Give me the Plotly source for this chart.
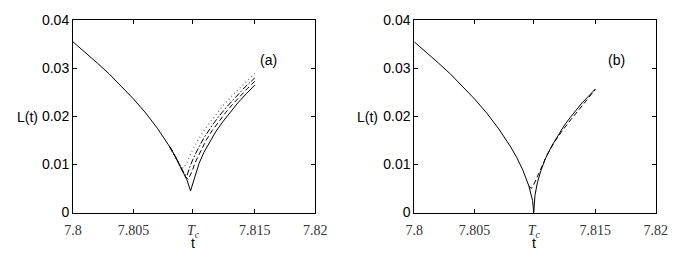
import plotly.graph_objects as go

TC = 7.8099

# ---- panel (a) ----
a_solid_t = [7.800, 7.801, 7.802, 7.803, 7.804, 7.805, 7.806, 7.807, 7.808, 7.8085, 7.809, 7.8094, 7.8097,
             7.8099, 7.8101, 7.8104, 7.8108, 7.8113, 7.8118, 7.8124, 7.8130, 7.8136, 7.8143, 7.8150]
a_solid_L = [0.0355, 0.0334, 0.0311, 0.0288, 0.0263, 0.0236, 0.0207, 0.0174, 0.0136, 0.0114, 0.0088, 0.0068, 0.0045,
             0.0062, 0.0080, 0.0102, 0.0125, 0.0148, 0.0169, 0.0190, 0.0210, 0.0228, 0.0247, 0.0265]

a_dash_t = [7.808, 7.8085, 7.809, 7.8093, 7.8095, 7.8098, 7.8101, 7.8105, 7.8110, 7.8115, 7.8120, 7.8126,
            7.8132, 7.8138, 7.8144, 7.8150]
a_dash_L = [0.0136, 0.0114, 0.0088, 0.0074, 0.0069, 0.0084, 0.0105, 0.0127, 0.0151, 0.0171, 0.0189, 0.0208,
            0.0226, 0.0243, 0.0258, 0.0273]

a_dashdot_t = [7.808, 7.8085, 7.809, 7.8092, 7.8094, 7.8096, 7.8099, 7.8103, 7.8108, 7.8114, 7.8120, 7.8127,
               7.8134, 7.8142, 7.8150]
a_dashdot_L = [0.0136, 0.0114, 0.0090, 0.0080, 0.0076, 0.0092, 0.0111, 0.0132, 0.0155, 0.0178, 0.0199, 0.0220,
               0.0240, 0.0261, 0.0280]

a_dot_t = [7.8080, 7.8085, 7.8088, 7.8091, 7.8094, 7.8098, 7.8103, 7.8109, 7.8116, 7.8124, 7.8132, 7.8141, 7.8150]
a_dot_L = [0.0136, 0.0112, 0.0099, 0.0092, 0.0104, 0.0127, 0.0150, 0.0174, 0.0198, 0.0223, 0.0245, 0.0268, 0.0289]

# ---- panel (b) ----
b_solid_t = [7.800, 7.801, 7.802, 7.803, 7.804, 7.805, 7.806, 7.807, 7.808, 7.8085, 7.809, 7.8095, 7.8098, 7.8099,
             7.8100, 7.8102, 7.8105, 7.8109, 7.8114, 7.8119, 7.8124, 7.8129, 7.8134, 7.8139, 7.8144, 7.8150]
b_solid_L = [0.0355, 0.0334, 0.0311, 0.0288, 0.0263, 0.0236, 0.0207, 0.0174, 0.0136, 0.0114, 0.0088, 0.0055, 0.0025, 0.0,
             0.0036, 0.0062, 0.0088, 0.0114, 0.0139, 0.0161, 0.0180, 0.0197, 0.0213, 0.0228, 0.0241, 0.0257]

b_dash_t = [7.8095, 7.8097, 7.8099, 7.8102, 7.8106, 7.8110, 7.8116, 7.8122, 7.8130, 7.8140, 7.8150]
b_dash_L = [0.0055, 0.0050, 0.0058, 0.0075, 0.0098, 0.0120, 0.0146, 0.0168, 0.0194, 0.0225, 0.0256]

x_tickvals = [7.800, 7.805, TC, 7.815, 7.820]
x_ticktext = ["7.8", "7.805", "<i>T</i><sub><i>c</i></sub>", "7.815", "7.82"]
y_tickvals = [0, 0.01, 0.02, 0.03, 0.04]
y_ticktext = ["0", "0.01", "0.02", "0.03", "0.04"]

fig = go.Figure()

def add(t, L, dash, xa, ya, color="black", width=1.0):
    fig.add_trace(go.Scatter(x=t, y=L, mode="lines", xaxis=xa, yaxis=ya,
                             line=dict(color=color, width=width, dash=dash), showlegend=False,
                             hoverinfo="skip"))

add(a_dot_t, a_dot_L, "1px,3px", "x", "y", color="#666666", width=1.2)
add(a_dashdot_t, a_dashdot_L, "6px,2px,1.5px,2px", "x", "y")
add(a_dash_t, a_dash_L, "5px,3px", "x", "y")
add(a_solid_t, a_solid_L, "solid", "x", "y")

add(b_dash_t, b_dash_L, "5px,3px", "x2", "y2")
add(b_solid_t, b_solid_L, "solid", "x2", "y2")

xax = dict(range=[7.8, 7.82], tickvals=x_tickvals, ticktext=x_ticktext, ticks="inside", ticklen=4,
           tickcolor="black", showline=True, linecolor="black", linewidth=1, mirror="ticks",
           showgrid=False, zeroline=False, ticklabelstandoff=5,
           tickfont=dict(family="Liberation Serif", size=14, color="#333333"))
yax = dict(range=[0, 0.04], tickvals=y_tickvals, ticktext=y_ticktext, ticks="inside", ticklen=4,
           tickcolor="black", showline=True, linecolor="black", linewidth=1, mirror="ticks",
           showgrid=False, zeroline=False,
           tickfont=dict(family="Liberation Sans", size=14, color="black"))

dom_y = [1 - 218 / 259, 1 - 13 / 259]
fig.update_layout(
    width=689, height=259, margin=dict(l=0, r=0, t=0, b=0),
    paper_bgcolor="white", plot_bgcolor="white",
    xaxis=dict(domain=[66 / 689, 316 / 689], anchor="y", **xax),
    yaxis=dict(domain=dom_y, anchor="x", **yax),
    xaxis2=dict(domain=[418 / 689, 667 / 689], anchor="y2", **xax),
    yaxis2=dict(domain=dom_y, anchor="x2", **yax),
)

font_sans = dict(family="Liberation Sans", size=14, color="black")
def pa(text, x, y, yanchor="middle"):
    return dict(text=text, x=x / 689, y=1 - y / 259, xref="paper", yref="paper", showarrow=False,
                xanchor="center", yanchor=yanchor, font=font_sans, borderpad=0)

ann = [
    dict(text="(a)", x=7.81616, y=0.0318, xref="x", yref="y", showarrow=False,
         xanchor="center", yanchor="middle", font=font_sans),
    dict(text="(b)", x=7.81679, y=0.0318, xref="x2", yref="y2", showarrow=False,
         xanchor="center", yanchor="middle", font=font_sans),
    pa("L(t)", 19, 116),
    pa("L(t)", 370, 116),
    pa("t", 190, 241, "top"),
    pa("t", 542, 241, "top"),
]
fig.update_layout(annotations=ann)

fig.write_html("out.html", config={"displayModeBar": False},
               post_script="document.body.style.margin='0';document.body.style.overflow='hidden';")
